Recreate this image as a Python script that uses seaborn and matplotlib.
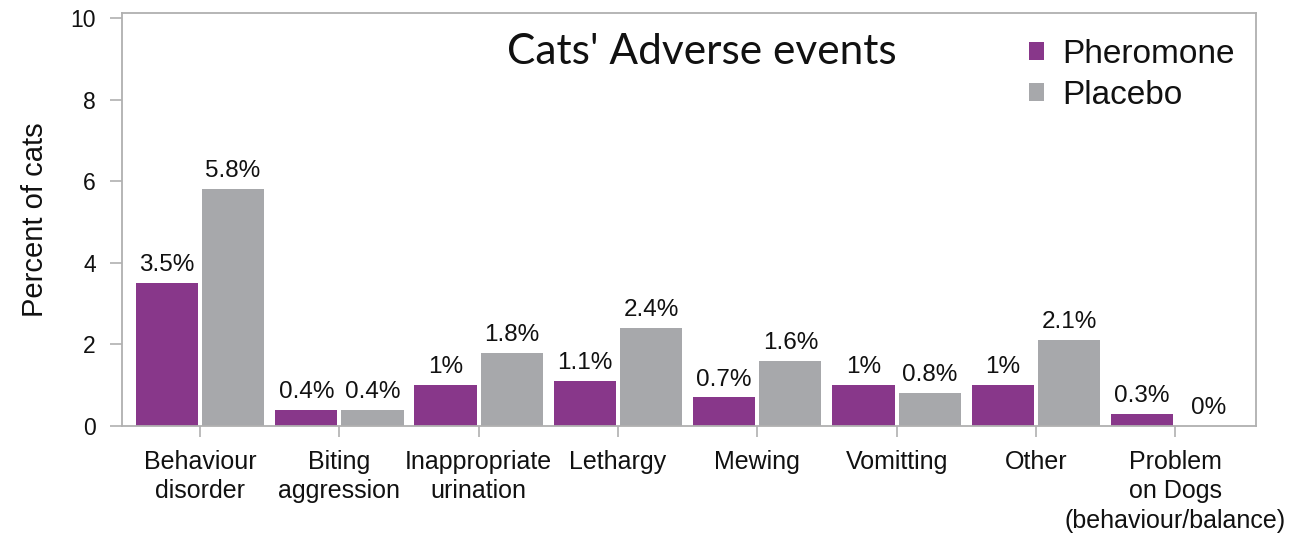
import matplotlib
matplotlib.use("Agg")
import matplotlib.pyplot as plt
import seaborn as sns
import pandas as pd

categories = [
    "Behaviour\ndisorder",
    "Biting\naggression",
    "Inappropriate\nurination",
    "Lethargy",
    "Mewing",
    "Vomitting",
    "Other",
    "Problem\non Dogs\n(behaviour/balance)",
]
pheromone = [3.5, 0.4, 1.0, 1.1, 0.7, 1.0, 1.0, 0.3]
placebo = [5.8, 0.4, 1.8, 2.4, 1.6, 0.8, 2.1, 0.0]
series_names = ["Pheromone", "Placebo"]
y_ticks = [0, 2, 4, 6, 8, 10]
title = "Cats' Adverse events"
y_label = "Percent of cats"

df = pd.DataFrame({
    "category": categories * 2,
    "value": pheromone + placebo,
    "group": [series_names[0]] * len(categories) + [series_names[1]] * len(categories),
})

sns.set_theme(style="white")
plt.rcParams["font.family"] = ["Liberation Sans", "DejaVu Sans"]

fig = plt.figure(figsize=(13.05, 5.35), dpi=100)
ax = fig.add_axes([0.0935, 0.2037, 0.869, 0.772])

palette = {"Pheromone": "#88378a", "Placebo": "#a7a8ab"}
sns.barplot(data=df, x="category", y="value", hue="group", order=categories,
            hue_order=series_names, palette=palette, width=0.95, gap=0.06,
            saturation=1, edgecolor="none", ax=ax, legend=True)

for cont in ax.containers:
    vals = [b.get_height() for b in cont]
    ax.bar_label(cont, labels=[f"{v:g}%" for v in vals], padding=5,
                 fontsize=17.5, color="#111111")

ax.set_ylim(0, 10.12)
ax.set_xlim(-0.56, 7.58)
ax.set_yticks(y_ticks)
ax.set_yticklabels([str(t) for t in y_ticks], fontsize=16.5, color="#111111")
ax.tick_params(axis="x", labelsize=18, colors="#111111", length=8, width=1.2,
               color="#b0b0b0", pad=9, bottom=True)
ax.tick_params(axis="y", length=9, width=1.2, color="#b0b0b0", pad=10, left=True)
for lbl in ax.get_xticklabels():
    lbl.set_linespacing(1.3)
ax.set_xlabel("")
ax.set_ylabel(y_label, fontsize=21, color="#111111", labelpad=15)

for sp in ax.spines.values():
    sp.set_visible(True)
    sp.set_color("#b0b0b0")
    sp.set_linewidth(1.3)

ax.text(0.511, 0.905, title, transform=ax.transAxes, ha="center", va="center",
        fontsize=30.5, family=["Lato", "DejaVu Sans"], color="#111111")

leg = ax.legend(loc="upper left", bbox_to_anchor=(0.788, 0.97), frameon=False,
                handlelength=0.45, handleheight=0.45, handletextpad=0.55,
                labelspacing=0.3, borderaxespad=0,
                prop={"family": ["Liberation Sans", "DejaVu Sans"], "size": 24})
for t in leg.get_texts():
    t.set_color("#111111")

fig.savefig("out.png", dpi=100)
